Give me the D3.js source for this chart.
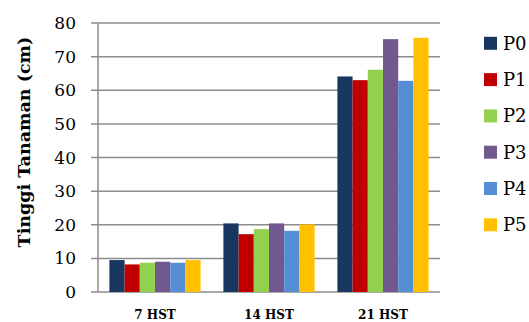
<!DOCTYPE html>
<html>
<head>
<meta charset="utf-8">
<script src="https://cdn.jsdelivr.net/npm/d3@7"></script>
<style>
  body { margin: 0; background: #fff; }
  text { font-family: "DejaVu Serif", "Liberation Serif", serif; fill: #000; }
</style>
</head>
<body>
<div id="chart"></div>
<script>
var categories = ["7 HST", "14 HST", "21 HST"];
var series = ["P0", "P1", "P2", "P3", "P4", "P5"];
var colors = ["#17375E", "#C00000", "#92D050", "#71588F", "#558ED5", "#FFC000"];
var values = [
  [9.5, 20.4, 64.1],   // P0
  [8.2, 17.2, 63.0],   // P1
  [8.7, 18.7, 66.1],   // P2
  [9.0, 20.4, 75.2],   // P3
  [8.7, 18.2, 62.8],   // P4
  [9.5, 20.1, 75.6]    // P5
];
var yTicks = [0, 10, 20, 30, 40, 50, 60, 70, 80];

var width = 529, height = 322;
var plotL = 98, plotR = 440, plotT = 23, plotB = 292;

var svg = d3.select("#chart").append("svg")
    .attr("width", width)
    .attr("height", height);

var x0 = d3.scaleBand().domain(categories).range([plotL, plotR]).paddingInner(0.2).paddingOuter(0.1);
var x1 = d3.scaleBand().domain(series).range([0, x0.bandwidth()]);
var y = d3.scaleLinear().domain([0, 80]).range([plotB, plotT]);

// gridlines + ticks
svg.append("g").selectAll("line")
   .data(yTicks)
   .enter().append("line")
   .attr("x1", plotL - 7).attr("x2", plotR)
   .attr("y1", function(d) { return y(d); })
   .attr("y2", function(d) { return y(d); })
   .attr("stroke", "#8c8c8c")
   .attr("stroke-width", 1.5);

svg.append("line")
   .attr("x1", plotL).attr("x2", plotL)
   .attr("y1", plotT).attr("y2", plotB)
   .attr("stroke", "#8c8c8c")
   .attr("stroke-width", 1.5);

svg.append("g").selectAll("text")
   .data(yTicks)
   .enter().append("text")
   .attr("x", 76)
   .attr("y", function(d) { return y(d); })
   .attr("dy", "0.36em")
   .attr("text-anchor", "end")
   .style("font-size", "17px")
   .text(function(d) { return d; });

// bars
var groups = svg.append("g").selectAll("g")
   .data(series)
   .enter().append("g")
   .attr("fill", function(d, i) { return colors[i]; });

groups.selectAll("rect")
   .data(function(d, i) { return values[i].map(function(v, j) { return {s: d, c: categories[j], v: v}; }); })
   .enter().append("rect")
   .attr("x", function(d) { return x0(d.c) + x1(d.s); })
   .attr("y", function(d) { return y(d.v); })
   .attr("width", x1.bandwidth())
   .attr("height", function(d) { return y(0) - y(d.v); });

// x labels
svg.append("g").selectAll("text")
   .data(categories)
   .enter().append("text")
   .attr("x", function(d) { return x0(d) + x0.bandwidth() / 2; })
   .attr("y", 319)
   .attr("text-anchor", "middle")
   .style("font-size", "12px")
   .style("font-weight", "bold")
   .text(function(d) { return d; });

// y title
svg.append("text")
   .attr("transform", "translate(30,142) rotate(-90)")
   .attr("text-anchor", "middle")
   .style("font-size", "17.5px")
   .style("font-weight", "bold")
   .text("Tinggi Tanaman (cm)");

// legend
var leg = svg.append("g").selectAll("g")
   .data(series)
   .enter().append("g")
   .attr("transform", function(d, i) { return "translate(484," + (43.3 + i * 36.3) + ")"; });

leg.append("rect")
   .attr("x", 0).attr("y", -6.5)
   .attr("width", 13).attr("height", 13)
   .attr("fill", function(d, i) { return colors[i]; });

leg.append("text")
   .attr("x", 19).attr("y", 0)
   .attr("dy", "0.36em")
   .style("font-size", "18px")
   .text(function(d) { return d; });
</script>
</body>
</html>
